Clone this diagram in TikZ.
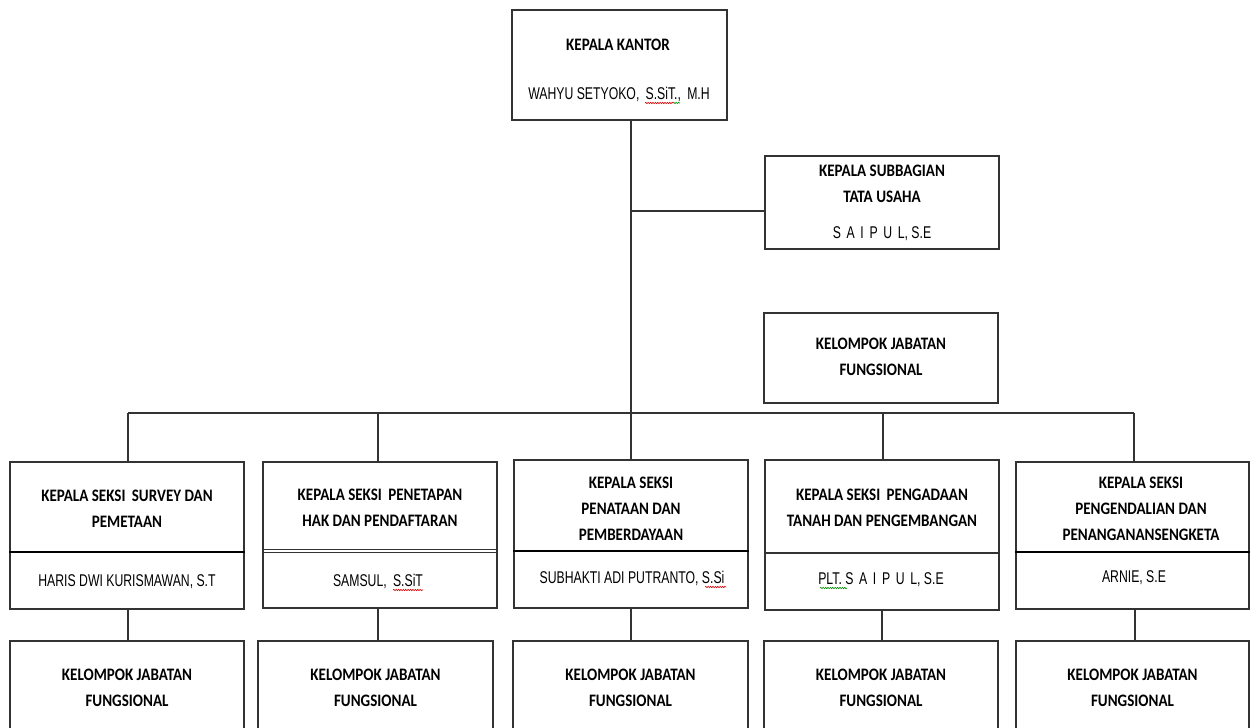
\documentclass[tikz,border=0pt]{standalone}
\usepackage{fontspec}
\setmainfont{Liberation Sans}
\newfontfamily\titlefont[FakeStretch=0.86]{Carlito}
\newfontfamily\namefont[FakeStretch=0.72]{Liberation Sans}
\usetikzlibrary{decorations.pathmorphing}
\definecolor{linegray}{HTML}{333333}
\begin{document}
\begin{tikzpicture}[x=1pt,y=-1pt,
  box/.style={draw=linegray, line width=1.3pt, rectangle, inner sep=0pt},
  conn/.style={draw=linegray, line width=1.2pt},
  divider/.style={draw=black, line width=2pt},
  ttl/.style={font=\titlefont\bfseries\fontsize{17.5}{26}\selectfont, align=center, inner sep=0pt, anchor=base},
  nm/.style={font=\namefont\fontsize{17}{20}\selectfont, inner sep=0pt, anchor=base},
  squig/.style={line width=0.6pt, decorate, decoration={snake, amplitude=0.7pt, segment length=2.4pt}}]
\clip (0,0) rectangle (1250,728);
\fill[white] (0,0) rectangle (1250,728);

% ---- boxes ----
\node[box, minimum width=215pt, minimum height=110pt] (kk) at (619.5,65) {};
\node[box, minimum width=234pt, minimum height=93pt] (sub) at (882,202.5) {};
\node[box, minimum width=234pt, minimum height=90pt] (kjf) at (881,358) {};

\node[box, minimum width=234pt, minimum height=147pt] (s1) at (127,535.5) {};
\node[box, minimum width=234pt, minimum height=146pt] (s2) at (380,535) {};
\node[box, minimum width=234pt, minimum height=148pt] (s3) at (631,534) {};
\node[box, minimum width=234pt, minimum height=150pt] (s4) at (882,535) {};
\node[box, minimum width=233pt, minimum height=147pt] (s5) at (1132.5,535.5) {};

\node[box, minimum width=234pt, minimum height=110pt] (b1) at (127,696) {};
\node[box, minimum width=235pt, minimum height=110pt] (b2) at (375.5,696) {};
\node[box, minimum width=235pt, minimum height=110pt] (b3) at (630.5,696) {};
\node[box, minimum width=234pt, minimum height=110pt] (b4) at (881,696) {};
\node[box, minimum width=233pt, minimum height=110pt] (b5) at (1132.5,696) {};

% ---- dividers ----
\draw[divider] (s1.west |- 0,552) -- (s1.east |- 0,552);
\draw[draw=linegray, line width=1pt] (s2.west |- 0,549) -- (s2.east |- 0,549);
\draw[draw=linegray, line width=1pt] (s2.west |- 0,552.5) -- (s2.east |- 0,552.5);
\draw[divider] (s3.west |- 0,551) -- (s3.east |- 0,551);
\draw[draw=linegray, line width=1.4pt] (s4.west |- 0,553) -- (s4.east |- 0,553);
\draw[divider] (s5.west |- 0,552) -- (s5.east |- 0,552);

% ---- bus coordinates ----
\coordinate (trunk) at (631,413);
\coordinate (bus1) at (128,413);
\coordinate (bus2) at (378,413);
\coordinate (bus4) at (883,413);
\coordinate (bus5) at (1134,413);
\coordinate (subj) at (631,211);

% ---- connectors ----
\draw[conn] (kk.south -| trunk) -- (trunk);
\draw[conn] (subj) -- (sub.west |- subj);
\draw[conn] (bus1) -- (bus5);
\draw[conn] (bus1) -- (s1.north -| bus1);
\draw[conn] (bus2) -- (s2.north -| bus2);
\draw[conn] (trunk) -- (s3.north -| trunk);
\draw[conn] (bus4) -- (s4.north -| bus4);
\draw[conn] (bus5) -- (s5.north -| bus5);

\draw[conn] (s1.south -| bus1) -- (b1.north -| bus1);
\draw[conn] (s2.south -| bus2) -- (b2.north -| bus2);
\draw[conn] (s3.south -| trunk) -- (b3.north -| trunk);
\draw[conn] (s4.south -| 882,0) -- (b4.north -| 882,0);
\draw[conn] (s5.south -| 1135,0) -- (b5.north -| 1135,0);

% ---- texts (anchor = baseline of last line) ----
\node[ttl] (t-kk) at (618,50) {KEPALA KANTOR};
\node[nm] (n-kk) at (619,99) {WAHYU SETYOKO,\, S.SiT.,\, M.H};

\node[ttl] (t-sub) at (882,202) {KEPALA SUBBAGIAN\\TATA USAHA};
\node[nm] (n-sub) at (882,238) {S\,\,A\,\,I\,\,P\,\,U\,\,L, S.E};

\node[ttl] (t-kjf) at (881,375) {KELOMPOK JABATAN\\FUNGSIONAL};

\node[ttl] (t-s1) at (127,527) {KEPALA SEKSI\, SURVEY DAN\\PEMETAAN};
\node[nm] (n-s1) at (127,586) {HARIS DWI KURISMAWAN, S.T};

\node[ttl] (t-s2) at (380,526) {KEPALA SEKSI\, PENETAPAN\\HAK DAN PENDAFTARAN};
\node[nm] (n-s2) at (378,586) {SAMSUL,\, S.SiT};

\node[ttl] (t-s3) at (631,540) {KEPALA SEKSI\\PENATAAN DAN\\PEMBERDAYAAN};
\node[nm] (n-s3) at (632,583) {SUBHAKTI ADI PUTRANTO, S.Si};

\node[ttl] (t-s4) at (882,526) {KEPALA SEKSI\, PENGADAAN\\TANAH DAN PENGEMBANGAN};
\node[nm] (n-s4) at (881,584) {PLT. S\,\,A\,\,I\,\,P\,\,U\,\,L, S.E};

\node[ttl] (t-s5) at (1141,540) {KEPALA SEKSI\\PENGENDALIAN DAN\\PENANGANANSENGKETA};
\node[nm] (n-s5) at (1134,582) {ARNIE, S.E};

\node[ttl] (t-b1) at (127,706) {KELOMPOK JABATAN\\FUNGSIONAL};
\node[ttl] (t-b2) at (375.5,706) {KELOMPOK JABATAN\\FUNGSIONAL};
\node[ttl] (t-b3) at (630.5,706) {KELOMPOK JABATAN\\FUNGSIONAL};
\node[ttl] (t-b4) at (881,706) {KELOMPOK JABATAN\\FUNGSIONAL};
\node[ttl] (t-b5) at (1132.5,706) {KELOMPOK JABATAN\\FUNGSIONAL};

% ---- spell-check squiggles ----
\draw[squig, red!85!black] (n-kk.base -| 645,0) ++(0,4) -- ++(28,0);
\draw[squig, green!55!black] (n-kk.base -| 673,0) ++(0,4) -- ++(7,0);
\draw[squig, red!85!black] (n-s2.base -| 393,0) ++(0,4) -- ++(30,0);
\draw[squig, red!85!black] (n-s3.base -| 705,0) ++(0,4) -- ++(21,0);
\draw[squig, green!55!black] (n-s4.base -| 820,0) ++(0,4) -- ++(27,0);
\end{tikzpicture}
\end{document}
